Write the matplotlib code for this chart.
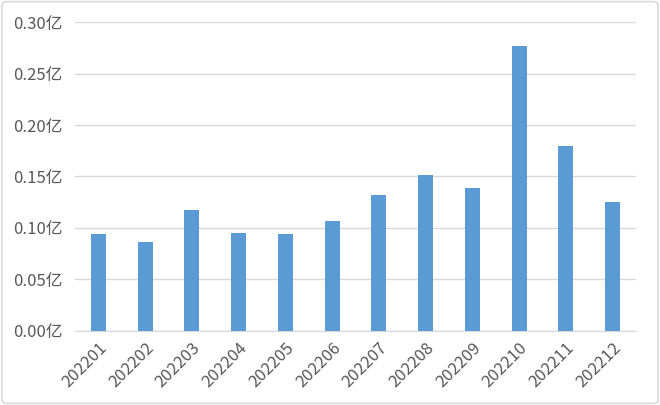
import matplotlib.pyplot as plt
from matplotlib.patches import FancyBboxPatch

# monthly values, unit: 亿
months = ["202201", "202202", "202203", "202204", "202205", "202206",
          "202207", "202208", "202209", "202210", "202211", "202212"]
values = [0.094, 0.086, 0.117, 0.095, 0.094, 0.107,
          0.132, 0.151, 0.139, 0.277, 0.180, 0.125]
yticks = [0.00, 0.05, 0.10, 0.15, 0.20, 0.25, 0.30]

plt.rcParams['font.family'] = ['Noto Sans CJK SC', 'DejaVu Sans']
plt.rcParams['font.weight'] = 'light'

fig = plt.figure(figsize=(6.6, 4.05), dpi=100)
ax = fig.add_axes([0.1136, 0.1835, 0.85, 0.7615])

# light outer border
fig.patches.append(FancyBboxPatch((0.003, 0.004), 0.994, 0.992,
                                  boxstyle="round,pad=0,rounding_size=0.008",
                                  transform=fig.transFigure, fill=False,
                                  edgecolor="#D9D9D9", linewidth=1.2))

x = range(len(months))
ax.bar(x, values, width=0.32, color="#5B9BD5", zorder=3)

ax.set_xlim(-0.5, len(months) - 0.5)
ax.set_ylim(0, 0.30)
ax.set_yticks(yticks)
ax.set_yticklabels([f"{v:.2f}亿" for v in yticks])
ax.set_xticks(list(x))
ax.set_xticklabels(months, rotation=45, ha="right", rotation_mode="anchor")

ax.grid(axis="y", color="#D9D9D9", linewidth=1, zorder=0)
for s in ["top", "right", "left"]:
    ax.spines[s].set_visible(False)
ax.spines["bottom"].set_color("#D9D9D9")
ax.tick_params(axis="both", length=0, labelsize=12, colors="#595959")
ax.tick_params(axis="y", pad=9)
ax.tick_params(axis="x", pad=6)

plt.savefig("out.png", dpi=100)
